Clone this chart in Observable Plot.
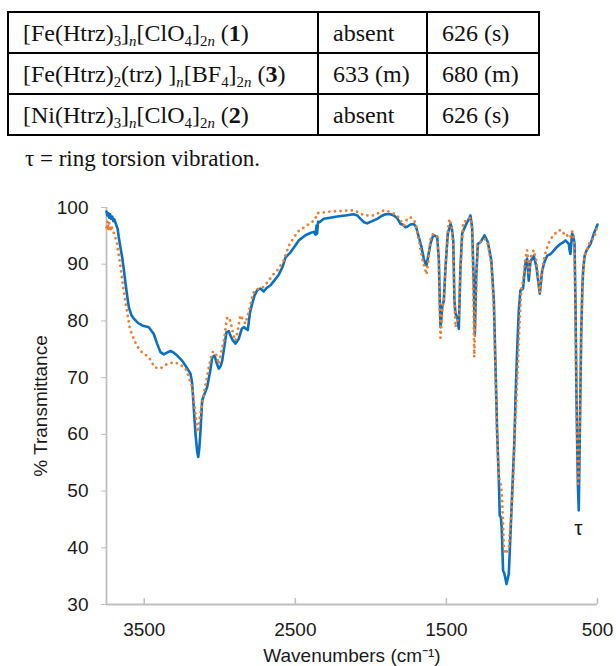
<!DOCTYPE html>
<html>
<head>
<meta charset="utf-8">
<script src="https://cdn.jsdelivr.net/npm/d3@7"></script>
<script src="https://cdn.jsdelivr.net/npm/@observablehq/plot@0.6"></script>
<style>
  html, body { margin: 0; padding: 0; background: #fff; }
  #page { position: relative; width: 616px; height: 666px; overflow: hidden; background: #fff; }
  #tbl { position: absolute; left: 7px; top: 11px; border-collapse: collapse; table-layout: fixed;
         font-family: "Liberation Serif", "Times New Roman", serif; font-size: 24px; color: #111; }
  #tbl td { border: 2px solid #000; height: 39px; padding: 0 0 0 14px; vertical-align: middle; white-space: nowrap; line-height: 1; }
  #tbl sub { font-size: 0.62em; vertical-align: -0.32em; line-height: 0; }
  #caption { position: absolute; left: 25px; top: 146px; font-family: "Liberation Serif", "Times New Roman", serif;
             font-size: 23px; line-height: 26px; color: #111; white-space: nowrap; }
  #chart { position: absolute; left: 0; top: 180px; }
</style>
</head>
<body>
<div id="page">
  <table id="tbl"><colgroup><col style="width:310px"><col style="width:109px"><col style="width:112px"></colgroup><tbody></tbody></table>
  <div id="caption"></div>
  <div id="chart"></div>
</div>
<script>
// ---- table content ----
const tableCompounds = [
  '[Fe(Htrz)<sub>3</sub>]<sub><i>n</i></sub>[ClO<sub>4</sub>]<sub>2<i>n</i></sub> (<b>1</b>)',
  '[Fe(Htrz)<sub>2</sub>(trz) ]<sub><i>n</i></sub>[BF<sub>4</sub>]<sub>2<i>n</i></sub> (<b>3</b>)',
  '[Ni(Htrz)<sub>3</sub>]<sub><i>n</i></sub>[ClO<sub>4</sub>]<sub>2<i>n</i></sub> (<b>2</b>)'
];
const tableCol2 = ["absent", "633 (m)", "absent"];
const tableCol3 = ["626 (s)", "680 (m)", "626 (s)"];
const captionText = "τ = ring torsion vibration.";

// ---- axis ticks ----
const xDomain = [3750, 500];
const yDomain = [30, 100];
const xTicks = [3500, 2500, 1500, 500];
const yTicks = [30, 40, 50, 60, 70, 80, 90, 100];
const xLabel = "Wavenumbers (cm⁻¹)";
const yLabel = "% Transmittance";

// ---- spectrum 1 (blue, solid): [wavenumber, %T] ----
const blueSpectrum = [
  [3750,99.3],[3744,98.6],[3738,99.0],[3732,98.2],[3726,98.8],[3720,98.0],[3712,98.4],[3705,97.6],[3698,97.9],
  [3690,97.3],[3684,96.8],[3676,96.2],[3669,94.8],[3658,93.0],[3646,91.2],[3635,89.0],[3624,86.6],[3612,84.2],
  [3602,82.4],[3585,81.0],[3569,80.4],[3540,79.6],[3514,79.2],[3470,78.9],[3437,77.7],[3415,76.0],[3393,74.5],
  [3371,74.1],[3350,74.4],[3326,74.7],[3305,74.4],[3282,73.9],[3250,73.0],[3227,72.1],[3194,70.7],[3183,69.0],
  [3172,64.5],[3161,60.1],[3150,57.0],[3143,56.0],[3136,57.5],[3128,60.5],[3117,66.0],[3100,67.2],[3084,68.3],
  [3065,71.0],[3050,73.6],[3035,73.9],[3020,72.5],[3007,71.6],[2995,72.0],[2984,73.0],[2970,75.5],[2956,78.0],
  [2940,78.2],[2934,77.7],[2915,76.6],[2896,76.0],[2875,76.8],[2855,78.6],[2841,78.9],[2815,78.4],[2800,81.5],
  [2786,83.0],[2770,84.5],[2750,85.5],[2731,85.7],[2709,85.2],[2690,85.8],[2664,86.3],[2640,87.1],[2609,88.2],
  [2585,89.5],[2565,91.2],[2532,92.1],[2500,93.3],[2477,94.2],[2433,95.1],[2400,95.5],[2378,95.7],[2366,95.2],
  [2360,96.8],[2356,95.4],[2350,97.5],[2340,97.4],[2312,98.0],[2270,98.2],[2223,98.4],[2170,98.6],[2113,98.8],
  [2090,98.6],[2069,98.0],[2045,97.4],[2024,97.2],[2000,97.5],[1958,98.0],[1930,98.5],[1903,98.8],[1870,98.8],
  [1848,98.6],[1825,98.1],[1804,97.1],[1790,97.0],[1771,96.5],[1760,96.6],[1738,97.0],[1716,97.1],[1700,96.5],
  [1683,94.8],[1665,93.0],[1650,91.0],[1640,90.2],[1632,89.8],[1620,91.5],[1606,93.6],[1588,95.1],[1575,95.0],
  [1561,94.8],[1550,90.7],[1544,83.6],[1539,78.9],[1533,80.5],[1528,82.4],[1517,83.6],[1506,89.5],[1491,95.4],
  [1473,97.1],[1465,96.5],[1455,94.2],[1447,83.6],[1440,81.3],[1429,80.7],[1418,78.6],[1407,89.5],[1396,95.4],
  [1374,96.8],[1355,97.8],[1341,98.6],[1330,96.5],[1319,86.5],[1312,77.7],[1303,87.7],[1292,93.6],[1274,93.9],
  [1248,95.1],[1226,93.9],[1203,90.7],[1186,83.6],[1175,71.8],[1164,60.1],[1153,51.9],[1147,45.7],[1140,45.4],
  [1134,43.5],[1125,36.0],[1116,35.4],[1102,33.6],[1087,35.4],[1076,42.5],[1065,49.5],[1050,59.0],[1043,66.0],
  [1032,74.8],[1021,81.8],[1010,85.4],[993,85.7],[977,90.1],[966,91.0],[955,87.1],[944,90.4],[922,91.5],
  [904,89.5],[882,84.8],[866,88.9],[850,90.5],[833,91.5],[810,91.8],[790,92.4],[770,93.0],[745,93.6],
  [730,93.8],[712,94.2],[690,93.6],[685,92.5],[679,91.8],[674,93.5],[668,95.4],[660,95.0],[652,93.6],
  [646,83.6],[639,66.0],[630,51.3],[624,46.6],[617,60.1],[608,77.7],[600,86.0],[595,88.9],[585,91.5],
  [573,92.4],[546,93.6],[524,95.4],[510,96.3],[500,97.0]
];

// ---- spectrum 2 (orange, dotted): [wavenumber, %T] ----
const orangeSpectrum = [
  [3750,96.5],[3744,97.6],[3738,96.0],[3732,97.3],[3725,95.8],[3718,96.8],[3710,96.2],[3700,95.4],[3690,94.6],
  [3680,93.6],[3660,90.1],[3640,86.0],[3615,81.8],[3595,78.6],[3565,76.5],[3530,74.8],[3470,73.6],[3430,71.8],
  [3395,71.6],[3350,72.4],[3307,72.7],[3263,72.4],[3220,71.3],[3183,68.3],[3161,63.6],[3146,60.4],[3128,63.7],
  [3106,67.1],[3073,71.8],[3050,74.5],[3028,74.5],[3007,72.4],[2974,76.5],[2951,80.7],[2930,80.0],[2910,77.5],
  [2896,76.5],[2880,78.5],[2864,81.0],[2830,79.5],[2800,82.5],[2786,84.2],[2770,85.4],[2709,86.0],[2643,88.3],
  [2620,88.9],[2576,90.7],[2543,93.3],[2486,95.7],[2410,97.1],[2370,97.8],[2356,99.0],[2267,99.3],[2113,99.5],
  [2070,99.0],[2047,98.6],[1980,98.6],[1914,99.5],[1870,99.2],[1826,98.6],[1800,97.6],[1782,96.8],[1760,98.0],
  [1738,98.3],[1705,97.4],[1683,94.2],[1660,91.0],[1640,89.0],[1632,88.2],[1620,90.5],[1603,94.8],[1588,95.3],
  [1561,95.0],[1550,90.0],[1544,82.0],[1539,77.0],[1533,79.5],[1528,82.0],[1517,84.0],[1506,89.5],[1491,96.0],
  [1480,98.0],[1465,96.5],[1455,93.0],[1447,84.0],[1440,78.9],[1429,80.0],[1418,80.5],[1407,89.0],[1390,97.4],
  [1360,97.8],[1341,98.3],[1330,96.0],[1322,86.0],[1316,73.6],[1308,80.0],[1300,88.0],[1292,93.6],[1274,94.0],
  [1248,94.5],[1226,93.6],[1203,90.0],[1186,82.0],[1175,71.0],[1164,59.0],[1153,52.5],[1138,51.0],[1131,48.3],
  [1120,40.1],[1109,38.9],[1098,39.5],[1087,40.1],[1072,45.4],[1058,51.9],[1043,63.0],[1028,71.8],[1014,80.7],
  [1005,85.5],[993,87.0],[977,91.0],[966,92.5],[958,90.5],[955,88.0],[944,91.0],[922,92.5],[904,90.5],
  [882,85.0],[866,89.0],[850,91.5],[833,93.0],[810,94.5],[790,95.0],[770,95.8],[745,96.0],[730,95.4],
  [712,95.6],[690,94.6],[680,94.8],[668,95.8],[660,95.0],[652,92.0],[646,82.0],[639,66.0],[632,54.0],
  [628,51.3],[624,52.0],[617,62.0],[608,78.0],[600,86.0],[595,89.0],[585,91.5],[573,92.4],[546,94.2],
  [524,94.5],[510,95.8],[500,96.8]
];

const annotations = [{wn: 626, t: 43.4, label: "τ"}];

// ---- build table ----
const tbody = document.querySelector("#tbl tbody");
tableCompounds.forEach((c, i) => {
  const tr = document.createElement("tr");
  [c, tableCol2[i], tableCol3[i]].forEach(v => {
    const td = document.createElement("td");
    td.innerHTML = v;
    tr.appendChild(td);
  });
  tbody.appendChild(tr);
});
document.getElementById("caption").textContent = captionText;

// ---- chart ----
const axisGray = "#bfbfbf";
const textColor = "#1a1a1a";
const chart = Plot.plot({
  width: 616,
  height: 486,
  marginLeft: 106,
  marginRight: 19,
  marginTop: 27,
  marginBottom: 62,
  style: {fontFamily: "'Liberation Sans', Arial, sans-serif", fontSize: "19px", background: "#fff", color: textColor},
  x: {domain: xDomain},
  y: {domain: yDomain},
  marks: [
    Plot.axisY(yTicks, {tickSize: 5, tickPadding: 13, stroke: axisGray, fill: textColor, fontSize: 19, label: null, tickFormat: d => String(d)}),
    Plot.axisX(xTicks, {tickSize: 0, tickPadding: 18, fill: textColor, fontSize: 19, label: null, tickFormat: d => String(d)}),
    Plot.tickX(xTicks, {x: d => d, stroke: axisGray, strokeWidth: 1.5, insetTop: 391}),
    Plot.ruleX([xDomain[0]], {stroke: axisGray, strokeWidth: 1.8}),
    Plot.ruleY([yDomain[0]], {stroke: axisGray, strokeWidth: 1.8}),
    Plot.line(blueSpectrum, {x: d => d[0], y: d => d[1], stroke: "#0a70c2", strokeWidth: 2.6, strokeLinejoin: "round"}),
    Plot.line(orangeSpectrum, {x: d => d[0], y: d => d[1], stroke: "#ed7d31", strokeWidth: 2.8, strokeDasharray: "0.01 5.6", strokeLinecap: "round"}),
    Plot.text(annotations, {x: "wn", y: "t", text: "label", fontSize: 21, fill: textColor}),
    Plot.text([yLabel], {text: d => d, frameAnchor: "left", dx: -66, rotate: -90, textAnchor: "middle", lineAnchor: "middle", fontSize: 19, fill: textColor}),
    Plot.text([xLabel], {text: d => d, frameAnchor: "bottom", dy: 51, textAnchor: "middle", lineAnchor: "middle", fontSize: 19, fill: textColor})
  ]
});
document.getElementById("chart").appendChild(chart);
</script>
</body>
</html>
